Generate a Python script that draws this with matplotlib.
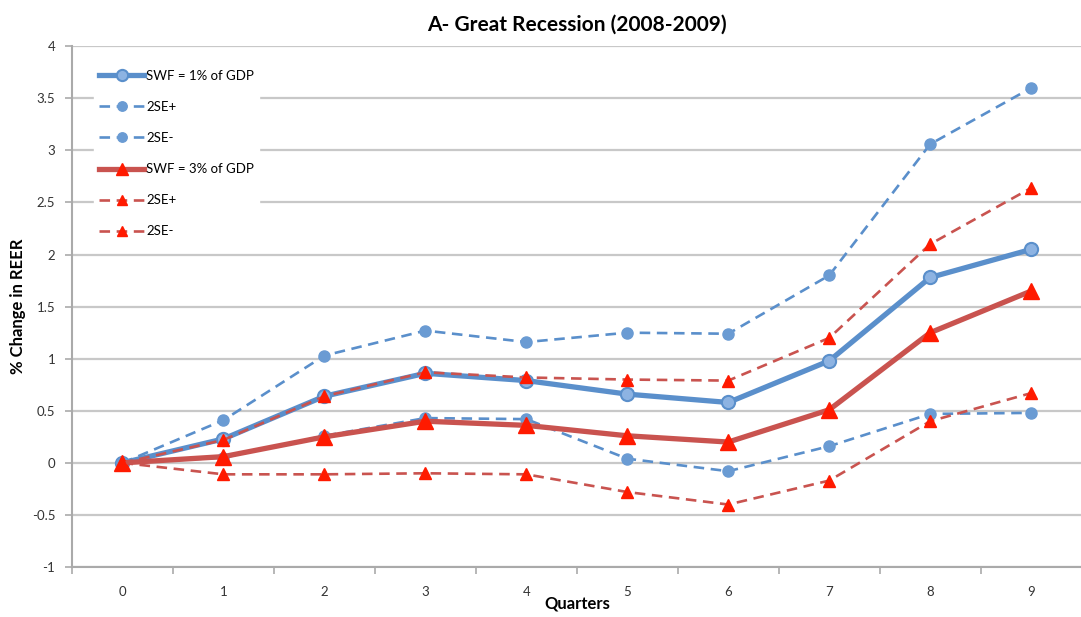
import matplotlib
matplotlib.use("Agg")
import matplotlib.pyplot as plt
from matplotlib.ticker import FixedLocator, NullFormatter

quarters = [0, 1, 2, 3, 4, 5, 6, 7, 8, 9]
swf1 = [0.0, 0.23, 0.64, 0.86, 0.79, 0.66, 0.58, 0.98, 1.78, 2.05]
swf1_up = [0.0, 0.41, 1.03, 1.27, 1.16, 1.25, 1.24, 1.80, 3.06, 3.60]
swf1_lo = [0.0, 0.05, 0.26, 0.43, 0.42, 0.04, -0.08, 0.16, 0.47, 0.48]
swf3 = [0.0, 0.06, 0.25, 0.40, 0.36, 0.26, 0.20, 0.51, 1.25, 1.65]
swf3_up = [0.0, 0.22, 0.64, 0.87, 0.82, 0.80, 0.79, 1.20, 2.10, 2.64]
swf3_lo = [0.0, -0.11, -0.11, -0.10, -0.11, -0.28, -0.40, -0.17, 0.40, 0.67]
labels = ["SWF = 1% of GDP", "2SE+", "2SE-", "SWF = 3% of GDP", "2SE+", "2SE-"]

plt.rcParams['font.family'] = ['Lato', 'DejaVu Sans']

fig = plt.figure(figsize=(10.81, 6.17), dpi=100)
ax = fig.add_axes([0.0666, 0.081, 0.934, 0.844])

blue = '#5A8FCB'
blue_m = '#6A9BD3'
red_line = '#C9534F'
red_m = '#FF1A00'

ax.plot(quarters, swf1, color=blue, lw=3.8, marker='o', ms=9.5,
        mfc='#8DB3E2', mec=blue, mew=1.5, label=labels[0])
ax.plot(quarters, swf1_up, color=blue, lw=1.9, ls=(0, (4, 2.5)), marker='o', ms=8,
        mfc=blue_m, mec=blue_m, label=labels[1])
ax.plot(quarters, swf1_lo, color=blue, lw=1.9, ls=(0, (4, 2.5)), marker='o', ms=8,
        mfc=blue_m, mec=blue_m, label=labels[2])
ax.plot(quarters, swf3, color=red_line, lw=3.8, marker='^', ms=11,
        mfc=red_m, mec=red_m, label=labels[3])
ax.plot(quarters, swf3_up, color=red_line, lw=1.9, ls=(0, (4, 2.5)), marker='^', ms=8.5,
        mfc=red_m, mec=red_m, label=labels[4])
ax.plot(quarters, swf3_lo, color=red_line, lw=1.9, ls=(0, (4, 2.5)), marker='^', ms=8.5,
        mfc=red_m, mec=red_m, label=labels[5])

ax.set_xlim(-0.5, 9.5)
ax.set_ylim(-1, 4)
ax.set_yticks([-1, -0.5, 0, 0.5, 1, 1.5, 2, 2.5, 3, 3.5, 4])
ax.set_yticklabels(["-1", "-0.5", "0", "0.5", "1", "1.5", "2", "2.5", "3", "3.5", "4"])
ax.grid(axis='y', color='#C8C8C8', lw=1.6)
ax.set_axisbelow(True)

ax.xaxis.set_major_locator(FixedLocator([i - 0.5 for i in range(11)]))
ax.xaxis.set_major_formatter(NullFormatter())
ax.xaxis.set_minor_locator(FixedLocator(quarters))
ax.set_xticklabels([str(q) for q in quarters], minor=True)
ax.tick_params(axis='x', which='major', length=5, color='#AAAAAA', width=1.2, direction='out')
ax.tick_params(axis='x', which='minor', length=0, pad=14, labelsize=9.5, labelcolor='#333333')
ax.tick_params(axis='y', length=5, color='#AAAAAA', width=1.2, labelsize=9.5, labelcolor='#333333', pad=7)

for s in ['top', 'right']:
    ax.spines[s].set_visible(False)
for s in ['left', 'bottom']:
    ax.spines[s].set_color('#AAAAAA')
    ax.spines[s].set_linewidth(1.5)

ax.set_title("A- Great Recession (2008-2009)", fontsize=15, fontweight='bold', pad=11)
ax.set_xlabel("Quarters", fontsize=12, fontweight='bold', labelpad=-2)
ax.set_ylabel("% Change in REER", fontsize=12, fontweight='bold', labelpad=4)

leg = ax.legend(loc='upper left', bbox_to_anchor=(0.022, 0.965), frameon=True,
                fontsize=9.5, handlelength=3.4, labelspacing=1.45, handletextpad=0.15,
                borderaxespad=0, borderpad=0.4, markerscale=0.85)
leg.get_frame().set_edgecolor('white')
leg.get_frame().set_facecolor('white')
leg.get_frame().set_alpha(1)

fig.savefig("out.png", dpi=100)
